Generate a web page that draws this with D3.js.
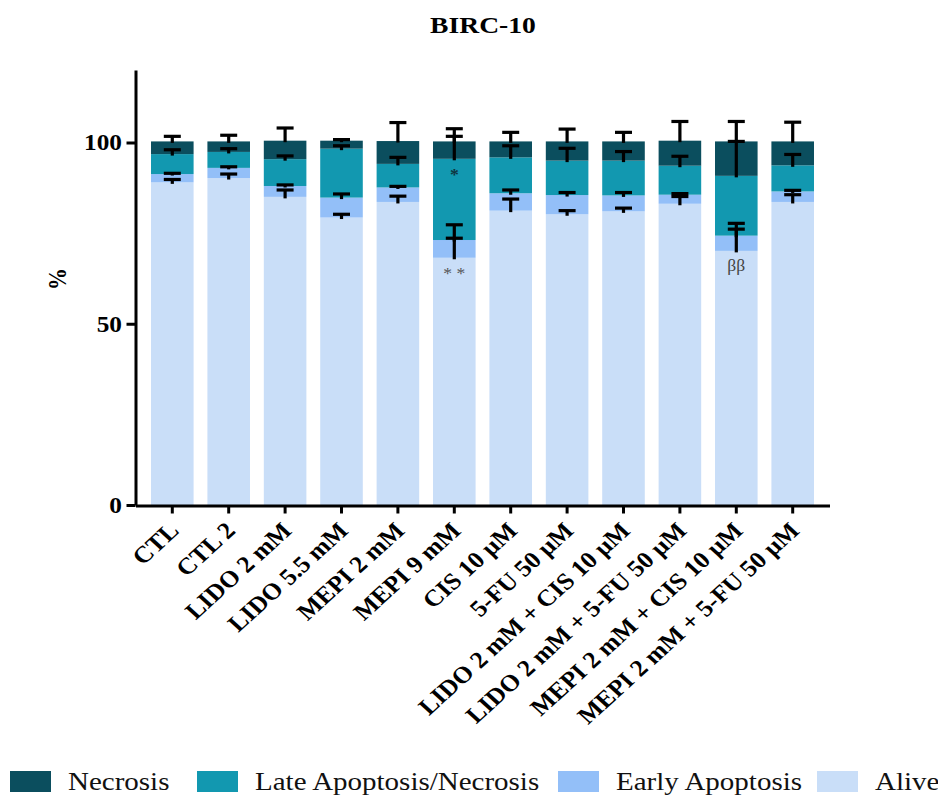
<!DOCTYPE html>
<html>
<head>
<meta charset="utf-8">
<script src="https://cdn.jsdelivr.net/npm/d3@7"></script>
<style>
  html, body { margin: 0; padding: 0; background: #fff; }
  svg { display: block; }
  text { font-family: "Liberation Serif", "Times New Roman", serif; }
</style>
</head>
<body>
<script>
// BIRC-10 cell fate (% of cells) per treatment, stacked means with SD
const categories = [
  "CTL", "CTL 2", "LIDO 2 mM", "LIDO 5.5 mM", "MEPI 2 mM", "MEPI 9 mM",
  "CIS 10 µM", "5-FU 50 µM", "LIDO 2 mM + CIS 10 µM", "LIDO 2 mM + 5-FU 50 µM",
  "MEPI 2 mM + CIS 10 µM", "MEPI 2 mM + 5-FU 50 µM"
];
const alive    = [89.0, 90.2, 85.0, 79.3, 83.6, 68.2, 81.2, 80.2, 81.0, 83.1, 70.1, 83.6];
const early    = [2.3, 2.8, 3.0, 5.5, 4.0, 4.9, 4.8, 5.3, 4.4, 2.5, 4.2, 2.9];
const late     = [5.5, 4.4, 7.4, 13.5, 6.5, 22.4, 9.9, 9.5, 9.6, 8.0, 16.5, 7.2];
const necrosis = [3.5, 2.9, 5.1, 2.2, 6.3, 4.8, 4.4, 5.3, 5.3, 6.9, 9.5, 6.6];

const aliveSD    = [0.8, 1.1, 1.9, 0.9, 1.6, 5.4, 3.2, 1.0, 0.9, 2.0, 6.0, 2.0];
const earlySD    = [0.2, 0.3, 0.3, 1.0, 0.3, 4.2, 0.9, 0.7, 0.8, 0.3, 3.4, 0.3];
const lateSD     = [1.2, 0.9, 0.9, 0.8, 1.8, 6.2, 3.2, 3.4, 2.5, 2.6, 9.5, 3.0];
const necrosisSD = [1.4, 1.7, 3.5, 0.3, 5.1, 3.5, 2.5, 3.4, 2.5, 5.3, 5.5, 5.3];

const seriesKeys   = ["alive", "early", "late", "necrosis"];
const seriesLabels = ["Alive", "Early Apoptosis", "Late Apoptosis/Necrosis", "Necrosis"];
const legendOrder  = ["necrosis", "late", "early", "alive"];
const yTicks = [0, 50, 100];

// significance marks: treatment, segment they sit in, symbol
const marks = [
  { cat: "MEPI 9 mM", key: "late", text: "*", color: "#0f3540", weight: "bold" },
  { cat: "MEPI 9 mM", key: "alive", text: "* *", color: "#555555", weight: "normal" },
  { cat: "MEPI 2 mM + CIS 10 µM", key: "alive", text: "ββ", color: "#444444", weight: "normal" }
];

const colors = {
  necrosis: "#0b4e5e",
  late: "#1298b0",
  early: "#93bff8",
  alive: "#c9def8"
};

const W = 938, H = 796;
const sx = 1.1; // horizontal text stretch

const svg = d3.select("body").append("svg")
  .attr("width", W).attr("height", H);

const rows = categories.map((c, i) => ({
  cat: c, alive: alive[i], early: early[i], late: late[i], necrosis: necrosis[i]
}));
const sds = { alive: aliveSD, early: earlySD, late: lateSD, necrosis: necrosisSD };

const x = d3.scaleBand()
  .domain(categories)
  .range([135.5, 829.5])
  .paddingInner(0.245)
  .paddingOuter(0.275);

const y = d3.scaleLinear().domain([0, 120]).range([505, 70]);

const stacked = d3.stack().keys(seriesKeys)(rows);

// bars
const layers = svg.append("g").selectAll("g")
  .data(stacked).join("g")
  .attr("fill", d => colors[d.key]);

layers.selectAll("rect")
  .data(d => d)
  .join("rect")
  .attr("x", d => x(d.data.cat))
  .attr("width", x.bandwidth())
  .attr("y", d => y(d[1]))
  .attr("height", d => y(d[0]) - y(d[1]));

// error bars (upward SD from each segment top)
const capHalf = 8.5;
const eb = svg.append("g").attr("stroke", "#000").attr("stroke-width", 3.2);
stacked.forEach(layer => {
  layer.forEach((d, i) => {
    const cx = x(d.data.cat) + x.bandwidth() / 2;
    const top = d[1];
    const hi = top + sds[layer.key][i];
    eb.append("line")
      .attr("x1", cx).attr("x2", cx)
      .attr("y1", y(top) + 1.5).attr("y2", y(hi));
    eb.append("line")
      .attr("x1", cx - capHalf).attr("x2", cx + capHalf)
      .attr("y1", y(hi)).attr("y2", y(hi));
  });
});

// significance marks
marks.forEach(m => {
  const layer = stacked.find(l => l.key === m.key);
  const d = layer[categories.indexOf(m.cat)];
  const cx = x(m.cat) + x.bandwidth() / 2;
  const isBeta = m.text.includes("β");
  svg.append("text")
    .attr("transform", `translate(${cx},${y(d[1]) + (isBeta ? 20 : 21.5)}) scale(${sx},1)`)
    .attr("text-anchor", "middle")
    .attr("font-size", 16)
    .attr("font-weight", m.weight)
    .attr("fill", m.color)
    .text(m.text);
});

// y axis
const yAxis = svg.append("g")
  .attr("transform", "translate(135.5,0)")
  .call(d3.axisLeft(y).tickValues(yTicks).tickSize(9).tickSizeOuter(0).tickFormat(""));
yAxis.select(".domain").attr("stroke", "#000").attr("stroke-width", 3);
yAxis.selectAll(".tick line").attr("stroke", "#000").attr("stroke-width", 3);

svg.append("g").selectAll("text")
  .data(yTicks).join("text")
  .attr("transform", d => `translate(122,${y(d) + 7.8}) scale(${sx},1)`)
  .attr("text-anchor", "end")
  .attr("font-size", 23)
  .attr("font-weight", "bold")
  .text(d => d);

// x axis
const xAxis = svg.append("g")
  .attr("transform", "translate(0,505.5)")
  .call(d3.axisBottom(x).tickSize(8).tickSizeOuter(0).tickFormat(""));
xAxis.select(".domain").attr("stroke", "#000").attr("stroke-width", 3);
xAxis.selectAll(".tick line").attr("stroke", "#000").attr("stroke-width", 3);

svg.append("g").selectAll("text")
  .data(categories).join("text")
  .attr("transform", d => `translate(${x(d) + x.bandwidth() / 2 + 8},532) scale(${sx},1) rotate(-45)`)
  .attr("text-anchor", "end")
  .attr("font-size", 23.5)
  .attr("font-weight", "bold")
  .text(d => d);

// y axis title
svg.append("text")
  .attr("transform", `translate(66,279) scale(1.15,1) rotate(-90)`)
  .attr("text-anchor", "middle")
  .attr("font-size", 22)
  .attr("font-weight", "bold")
  .text("%");

// chart title
svg.append("text")
  .attr("transform", `translate(483,33) scale(1.15,1)`)
  .attr("text-anchor", "middle")
  .attr("font-size", 24)
  .attr("font-weight", "bold")
  .text("BIRC-10");

// legend
const legendX = [10, 197, 558, 817];
const legend = svg.append("g");
legendOrder.forEach((k, i) => {
  const g = legend.append("g").attr("transform", `translate(${legendX[i]},0)`);
  g.append("rect")
    .attr("x", 0).attr("y", 771)
    .attr("width", 41).attr("height", 21)
    .attr("fill", colors[k]);
  g.append("text")
    .attr("transform", `translate(58,790) scale(1.16,1)`)
    .attr("font-size", 25)
    .attr("fill", "#111")
    .text(seriesLabels[seriesKeys.indexOf(k)]);
});
</script>
</body>
</html>
